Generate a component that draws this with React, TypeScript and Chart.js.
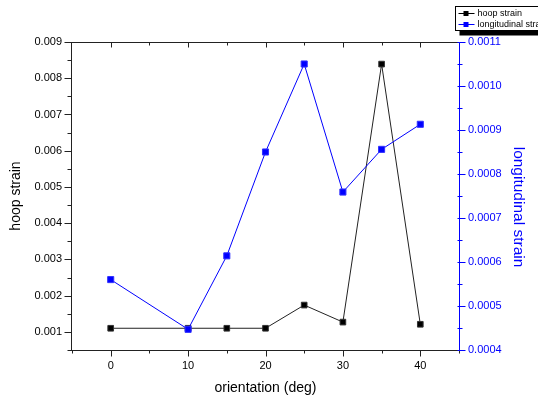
import React, { useEffect, useRef } from 'react';
import { Chart, registerables } from 'chart.js';

Chart.register(...registerables);

const orientation = [0, 10, 15, 20, 25, 30, 35, 40];
const hoopStrain = [0.0011, 0.0011, 0.0011, 0.0011, 0.00174, 0.00127, 0.00839, 0.00121];
const longitudinalStrain = [0.00056, 0.000447, 0.000614, 0.00085, 0.00105, 0.000759, 0.000856, 0.000913];

const xTicks = [0, 10, 20, 30, 40];
const hoopTicks = [0.001, 0.002, 0.003, 0.004, 0.005, 0.006, 0.007, 0.008, 0.009];
const longTicks = [0.0004, 0.0005, 0.0006, 0.0007, 0.0008, 0.0009, 0.001, 0.0011];

const seriesNames = ['hoop strain', 'longitudinal strain'];
const seriesColors = ['#000000', '#0000ff'];
const rightTitle = 'longitudinal strain';

const FONT = '"Liberation Sans", Arial, sans-serif';

const framePlugin = {
  id: 'frame',
  afterDraw(chart: any) {
    const { ctx, chartArea: a, scales } = chart;
    const sx = scales.x;
    const sy = scales.y;
    const sy1 = scales.y1;
    const L = a.left - 0.5;
    const R = a.right + 0.5;
    const T = a.top + 0.5;
    const B = a.bottom + 0.5;
    ctx.save();
    ctx.lineWidth = 1;
    const seg = (x1: number, y1: number, x2: number, y2: number) => {
      ctx.beginPath();
      ctx.moveTo(x1, y1);
      ctx.lineTo(x2, y2);
      ctx.stroke();
    };
    ctx.strokeStyle = '#222';
    seg(L - 2, T, R, T);
    seg(L - 2, B, R, B);
    seg(L, T, L, B);
    const xStepMinor = (xTicks[1] - xTicks[0]) / 2;
    for (let v = sx.min; v <= sx.max + 1e-9; v += xStepMinor) {
      const px = Math.round(sx.getPixelForValue(v)) + 0.5;
      const isMajor = xTicks.some((t) => Math.abs(t - v) < 1e-9);
      seg(px, B, px, B + (isMajor ? 6 : 3));
      if (v > sx.min + 1e-9 && v < sx.max - 1e-9) seg(px, T, px, T + (isMajor ? 5 : 3));
    }
    const yStepMinor = (hoopTicks[1] - hoopTicks[0]) / 2;
    for (let i = 0; i * yStepMinor + hoopTicks[0] - yStepMinor <= sy.max + 1e-12; i++) {
      const v = hoopTicks[0] - yStepMinor + i * yStepMinor;
      if (v < sy.min - 1e-12) continue;
      const py = Math.round(sy.getPixelForValue(v)) + 0.5;
      const isMajor = i % 2 === 1;
      seg(L, py, L - (isMajor ? 7 : 4), py);
    }
    ctx.strokeStyle = '#0000ff';
    seg(R, T, R, B);
    const rStepMinor = (longTicks[1] - longTicks[0]) / 2;
    const nR = Math.round((sy1.max - sy1.min) / rStepMinor);
    for (let i = 0; i <= nR; i++) {
      const v = sy1.min + i * rStepMinor;
      const py = Math.round(sy1.getPixelForValue(v)) + 0.5;
      const isMajor = i % 2 === 0;
      seg(R, py, R + (isMajor ? 6 : 3), py);
      seg(R, py, R - 2, py);
    }
    // right axis title
    ctx.save();
    ctx.translate(518, 207);
    ctx.rotate(Math.PI / 2);
    ctx.font = '15.5px ' + FONT;
    ctx.fillStyle = '#0000ff';
    ctx.textAlign = 'center';
    ctx.textBaseline = 'middle';
    ctx.fillText(rightTitle, 0, 0);
    ctx.restore();
    // legend
    const lx = 455.5;
    const ly = 6.5;
    ctx.fillStyle = '#000';
    ctx.fillRect(lx + 4, ly + 4, 200, 25);
    ctx.fillStyle = '#fff';
    ctx.fillRect(lx, ly, 200, 24);
    ctx.strokeStyle = '#000';
    ctx.strokeRect(lx, ly, 200, 24);
    ctx.font = '9px ' + FONT;
    ctx.textBaseline = 'middle';
    ctx.textAlign = 'left';
    seriesNames.forEach((name, i) => {
      const cy = 13 + i * 11;
      ctx.strokeStyle = seriesColors[i];
      ctx.fillStyle = seriesColors[i];
      seg(lx + 3, cy + 0.5, lx + 19, cy + 0.5);
      ctx.fillRect(lx + 8, cy - 2, 5, 5);
      ctx.fillStyle = '#000';
      ctx.fillText(name, lx + 22, cy + 1);
    });
    ctx.restore();
  },
};

export default function App() {
  const ref = useRef<HTMLCanvasElement | null>(null);
  useEffect(() => {
    if (!ref.current) return;
    const chart = new Chart(ref.current, {
      type: 'line',
      data: {
        datasets: [
          {
            label: seriesNames[1],
            data: orientation.map((x, i) => ({ x, y: longitudinalStrain[i] })),
            yAxisID: 'y1',
            borderColor: seriesColors[1],
            backgroundColor: seriesColors[1],
            borderWidth: 1,
            pointStyle: 'rect',
            pointRadius: 4.3,
            pointBorderWidth: 1,
            pointBorderColor: '#3030ff',
            pointBackgroundColor: seriesColors[1],
            tension: 0,
            order: 0,
          },
          {
            label: seriesNames[0],
            data: orientation.map((x, i) => ({ x, y: hoopStrain[i] })),
            yAxisID: 'y',
            borderColor: '#222',
            backgroundColor: seriesColors[0],
            borderWidth: 1,
            pointStyle: 'rect',
            pointRadius: 4,
            pointBorderWidth: 1,
            pointBorderColor: '#333',
            pointBackgroundColor: seriesColors[0],
            tension: 0,
            order: 1,
          },
        ],
      },
      options: {
        responsive: false,
        animation: false,
        events: [],
        layout: { padding: { top: 42, left: 0, right: 0, bottom: 0 } },
        plugins: { legend: { display: false }, tooltip: { enabled: false } },
        scales: {
          x: {
            type: 'linear',
            position: 'bottom',
            min: -5,
            max: 45,
            grid: { display: false, drawTicks: false },
            border: { display: false },
            ticks: { padding: 9, color: '#000', font: { family: FONT, size: 11 }, autoSkip: false, maxRotation: 0 },
            afterBuildTicks: (s: any) => {
              s.ticks = xTicks.map((v) => ({ value: v }));
            },
            afterFit: (s: any) => {
              s.height = 55;
            },
            title: { display: true, text: 'orientation (deg)', color: '#000', font: { family: FONT, size: 14 }, padding: 8 },
          },
          y: {
            type: 'linear',
            position: 'left',
            min: 0.0005,
            max: 0.009,
            grid: { display: false, drawTicks: false },
            border: { display: false },
            ticks: {
              padding: 10,
              color: '#000',
              font: { family: FONT, size: 11 },
              callback: (v: any) => Number(v).toFixed(3),
            },
            afterBuildTicks: (s: any) => {
              s.ticks = hoopTicks.map((v) => ({ value: v }));
            },
            afterFit: (s: any) => {
              s.width = 72;
            },
            title: { display: true, text: 'hoop strain', color: '#000', font: { family: FONT, size: 14 }, padding: 7.6 },
          },
          y1: {
            type: 'linear',
            position: 'right',
            min: 0.0004,
            max: 0.0011,
            grid: { display: false, drawTicks: false },
            border: { display: false },
            ticks: {
              padding: 9,
              color: '#0000ff',
              font: { family: FONT, size: 11 },
              callback: (v: any) => Number(v).toFixed(4),
            },
            afterBuildTicks: (s: any) => {
              s.ticks = longTicks.map((v) => ({ value: v }));
            },
            afterFit: (s: any) => {
              s.width = 79;
            },
          },
        },
      } as any,
      plugins: [framePlugin],
    });
    return () => chart.destroy();
  }, []);
  return (
    <div style={{ position: 'absolute', left: 0, top: 0, width: 538, height: 405, background: '#fff' }}>
      <canvas ref={ref} width={538} height={405} style={{ display: 'block' }} />
    </div>
  );
}
